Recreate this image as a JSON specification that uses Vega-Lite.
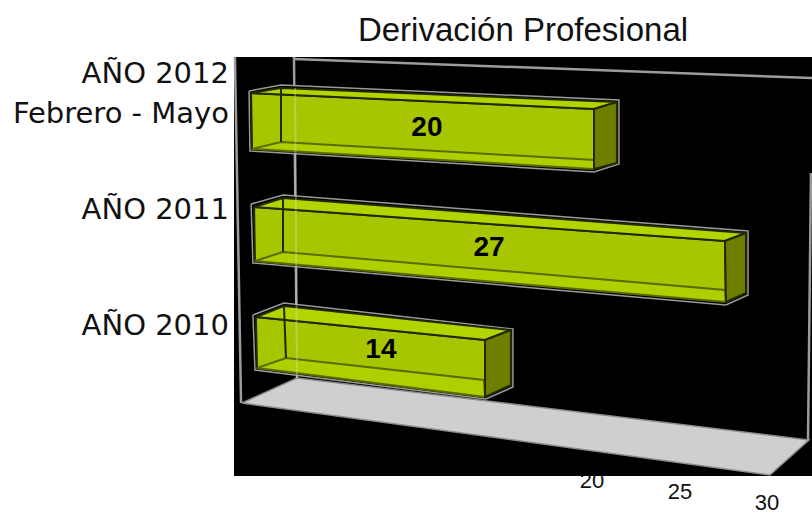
{
"$schema":"https://vega.github.io/schema/vega-lite/v6.json",
"width":578,"height":419,
"autosize":"none",
"padding":{"left":234,"top":57,"right":0,"bottom":38},
"background":"white",
"view":{"stroke":null},
"title":{"text":"Derivación Profesional","font":"Liberation Sans","fontSize":33,"fontWeight":"normal","color":"#111111","anchor":"middle","offset":4},
"datasets":{
"panel":[{"x":0.56,"x2":31.685,"y":0,"y2":41.9}],
"ticks":[{"label":"20","x":19.84,"y":-0.5},{"label":"25","x":24.58,"y":-1.6},{"label":"30","x":29.26,"y":-2.7}],
"walls":[
{"line":"left","i":0,"x":0.61,"y":41.9},{"line":"left","i":1,"x":0.94,"y":7.3},
{"line":"back","i":0,"x":3.79,"y":41.9},{"line":"back","i":1,"x":3.95,"y":9.8},
{"line":"top","i":0,"x":3.79,"y":41.7},{"line":"top","i":1,"x":31.69,"y":39.8},
{"line":"right","i":0,"x":31.63,"y":30.3},{"line":"right","i":1,"x":31.47,"y":3.6}],
"floor":[{"i":0,"x":0.99,"y":7.3},{"i":1,"x":3.95,"y":9.8},{"i":2,"x":31.52,"y":3.6},{"i":3,"x":29.42,"y":0.1},{"i":4,"x":0.99,"y":7.3}],
"outline":[
{"bar":"2012","i":0,"x":1.37,"y":38.5},{"bar":"2012","i":1,"x":3.09,"y":39.1},{"bar":"2012","i":2,"x":21.29,"y":37.6},{"bar":"2012","i":3,"x":21.29,"y":31.2},{"bar":"2012","i":4,"x":19.95,"y":30.4},{"bar":"2012","i":5,"x":1.42,"y":32.5},{"bar":"2012","i":6,"x":1.37,"y":38.5},
{"bar":"2011","i":0,"x":1.48,"y":27.2},{"bar":"2011","i":1,"x":3.2,"y":28.1},{"bar":"2011","i":2,"x":28.24,"y":24.5},{"bar":"2011","i":3,"x":28.24,"y":18.1},{"bar":"2011","i":4,"x":27.05,"y":17.1},{"bar":"2011","i":5,"x":1.58,"y":21.3},{"bar":"2011","i":6,"x":1.48,"y":27.2},
{"bar":"2010","i":0,"x":1.58,"y":16.1},{"bar":"2010","i":1,"x":3.25,"y":17.3},{"bar":"2010","i":2,"x":15.58,"y":14.7},{"bar":"2010","i":3,"x":15.58,"y":8.9},{"bar":"2010","i":4,"x":14.13,"y":7.7},{"bar":"2010","i":5,"x":1.69,"y":10.6},{"bar":"2010","i":6,"x":1.58,"y":16.1}],
"faces":[
{"poly":"2012f","face":"front","i":0,"x":1.48,"y":38.3},{"poly":"2012f","face":"front","i":1,"x":19.95,"y":36.7},{"poly":"2012f","face":"front","i":2,"x":19.95,"y":30.7},{"poly":"2012f","face":"front","i":3,"x":1.53,"y":32.7},{"poly":"2012f","face":"front","i":4,"x":1.48,"y":38.3},
{"poly":"2012b","face":"bottom","i":0,"x":1.53,"y":32.7},{"poly":"2012b","face":"bottom","i":1,"x":3.09,"y":33.4},{"poly":"2012b","face":"bottom","i":2,"x":19.95,"y":31.6},{"poly":"2012b","face":"bottom","i":3,"x":19.95,"y":30.7},{"poly":"2012b","face":"bottom","i":4,"x":1.53,"y":32.7},
{"poly":"2012t","face":"top","i":0,"x":1.48,"y":38.3},{"poly":"2012t","face":"top","i":1,"x":3.09,"y":38.8},{"poly":"2012t","face":"top","i":2,"x":21.18,"y":37.4},{"poly":"2012t","face":"top","i":3,"x":19.95,"y":36.7},{"poly":"2012t","face":"top","i":4,"x":1.48,"y":38.3},
{"poly":"2012s","face":"side","i":0,"x":19.95,"y":36.7},{"poly":"2012s","face":"side","i":1,"x":21.18,"y":37.4},{"poly":"2012s","face":"side","i":2,"x":21.18,"y":31.3},{"poly":"2012s","face":"side","i":3,"x":19.95,"y":30.7},{"poly":"2012s","face":"side","i":4,"x":19.95,"y":36.7},
{"poly":"2011f","face":"front","i":0,"x":1.64,"y":26.9},{"poly":"2011f","face":"front","i":1,"x":27.0,"y":23.5},{"poly":"2011f","face":"front","i":2,"x":27.05,"y":17.4},{"poly":"2011f","face":"front","i":3,"x":1.69,"y":21.5},{"poly":"2011f","face":"front","i":4,"x":1.64,"y":26.9},
{"poly":"2011b","face":"bottom","i":0,"x":1.69,"y":21.5},{"poly":"2011b","face":"bottom","i":1,"x":3.2,"y":22.4},{"poly":"2011b","face":"bottom","i":2,"x":27.0,"y":18.6},{"poly":"2011b","face":"bottom","i":3,"x":27.05,"y":17.4},{"poly":"2011b","face":"bottom","i":4,"x":1.69,"y":21.5},
{"poly":"2011t","face":"top","i":0,"x":1.64,"y":26.9},{"poly":"2011t","face":"top","i":1,"x":3.2,"y":27.8},{"poly":"2011t","face":"top","i":2,"x":28.13,"y":24.3},{"poly":"2011t","face":"top","i":3,"x":27.0,"y":23.5},{"poly":"2011t","face":"top","i":4,"x":1.64,"y":26.9},
{"poly":"2011s","face":"side","i":0,"x":27.0,"y":23.5},{"poly":"2011s","face":"side","i":1,"x":28.13,"y":24.3},{"poly":"2011s","face":"side","i":2,"x":28.13,"y":18.3},{"poly":"2011s","face":"side","i":3,"x":27.05,"y":17.4},{"poly":"2011s","face":"side","i":4,"x":27.0,"y":23.5},
{"poly":"2010f","face":"front","i":0,"x":1.74,"y":15.9},{"poly":"2010f","face":"front","i":1,"x":14.08,"y":13.6},{"poly":"2010f","face":"front","i":2,"x":14.08,"y":7.9},{"poly":"2010f","face":"front","i":3,"x":1.8,"y":10.8},{"poly":"2010f","face":"front","i":4,"x":1.74,"y":15.9},
{"poly":"2010b","face":"bottom","i":0,"x":1.8,"y":10.8},{"poly":"2010b","face":"bottom","i":1,"x":3.36,"y":11.8},{"poly":"2010b","face":"bottom","i":2,"x":14.02,"y":9.6},{"poly":"2010b","face":"bottom","i":3,"x":14.08,"y":7.9},{"poly":"2010b","face":"bottom","i":4,"x":1.8,"y":10.8},
{"poly":"2010t","face":"top","i":0,"x":1.74,"y":15.9},{"poly":"2010t","face":"top","i":1,"x":3.25,"y":17.0},{"poly":"2010t","face":"top","i":2,"x":15.47,"y":14.6},{"poly":"2010t","face":"top","i":3,"x":14.08,"y":13.6},{"poly":"2010t","face":"top","i":4,"x":1.74,"y":15.9},
{"poly":"2010s","face":"side","i":0,"x":14.08,"y":13.6},{"poly":"2010s","face":"side","i":1,"x":15.47,"y":14.6},{"poly":"2010s","face":"side","i":2,"x":15.47,"y":9.1},{"poly":"2010s","face":"side","i":3,"x":14.08,"y":7.9},{"poly":"2010s","face":"side","i":4,"x":14.08,"y":13.6}],
"edges":[
{"line":"a","i":0,"x":3.09,"y":38.8},{"line":"a","i":1,"x":3.09,"y":33.4},
{"line":"b","i":0,"x":3.2,"y":27.8},{"line":"b","i":1,"x":3.2,"y":22.4},
{"line":"c","i":0,"x":3.25,"y":17.0},{"line":"c","i":1,"x":3.36,"y":11.8}],
"ghost":[{"i":0,"x":3.85,"y":38.8},{"i":1,"x":3.95,"y":9.8}],
"values":[{"label":"20","x":10.95,"y":34.8},{"label":"27","x":14.29,"y":22.8},{"label":"14","x":8.47,"y":12.6}],
"categories":[{"label":"AÑO 2012","x":0.29,"y":40.2},{"label":"Febrero - Mayo","x":0.29,"y":36.2},{"label":"AÑO 2011","x":0.29,"y":26.6},{"label":"AÑO 2010","x":0.29,"y":15.0}]
},
"encoding":{
"x":{"field":"x","type":"quantitative","scale":{"domain":[0.56,31.685],"nice":false,"zero":false},"axis":null},
"y":{"field":"y","type":"quantitative","scale":{"domain":[0,41.9],"nice":false,"zero":false},"axis":null}
},
"layer":[
{"data":{"name":"ticks"},"mark":{"type":"text","font":"Liberation Sans","fontSize":22,"color":"#111111","align":"center","baseline":"middle","clip":false},"encoding":{"text":{"field":"label"}}},
{"data":{"name":"panel"},"mark":{"type":"rect","color":"#000000"},"encoding":{"x2":{"field":"x2"},"y2":{"field":"y2"}}},
{"data":{"name":"walls"},"mark":{"type":"line","stroke":"#9c9c9c","strokeWidth":2.5},"encoding":{"detail":{"field":"line"},"order":{"field":"i"}}},
{"data":{"name":"floor"},"mark":{"type":"line","fill":"#cfcfcf","stroke":"#8c8c8c","strokeWidth":1.5},"encoding":{"order":{"field":"i"}}},
{"data":{"name":"outline"},"mark":{"type":"line","fill":"#000000","stroke":"#9a9a9a","strokeWidth":1.5},"encoding":{"detail":{"field":"bar"},"order":{"field":"i"}}},
{"data":{"name":"faces"},"mark":{"type":"line","strokeWidth":2},"encoding":{"detail":{"field":"poly"},"order":{"field":"i"},"fill":{"field":"face","type":"nominal","scale":{"domain":["front","top","side","bottom"],"range":["#a8c600","#b4d400","#6e7f00","#b0cf00"]},"legend":null},"stroke":{"field":"face","type":"nominal","scale":{"domain":["front","top","side","bottom"],"range":["#232800","#232800","#232800","#5c6b00"]},"legend":null}}},
{"data":{"name":"edges"},"mark":{"type":"line","stroke":"#232800","strokeWidth":2},"encoding":{"detail":{"field":"line"},"order":{"field":"i"}}},
{"data":{"name":"ghost"},"mark":{"type":"line","stroke":"#dddddd","strokeWidth":2,"opacity":0.35},"encoding":{"order":{"field":"i"}}},
{"data":{"name":"values"},"mark":{"type":"text","font":"Liberation Sans","fontSize":28,"fontWeight":"bold","color":"#000000","align":"center","baseline":"middle"},"encoding":{"text":{"field":"label"}}},
{"data":{"name":"categories"},"mark":{"type":"text","font":"DejaVu Sans","fontSize":29,"color":"#111111","align":"right","baseline":"middle","clip":false},"encoding":{"text":{"field":"label"}}}
]
}
